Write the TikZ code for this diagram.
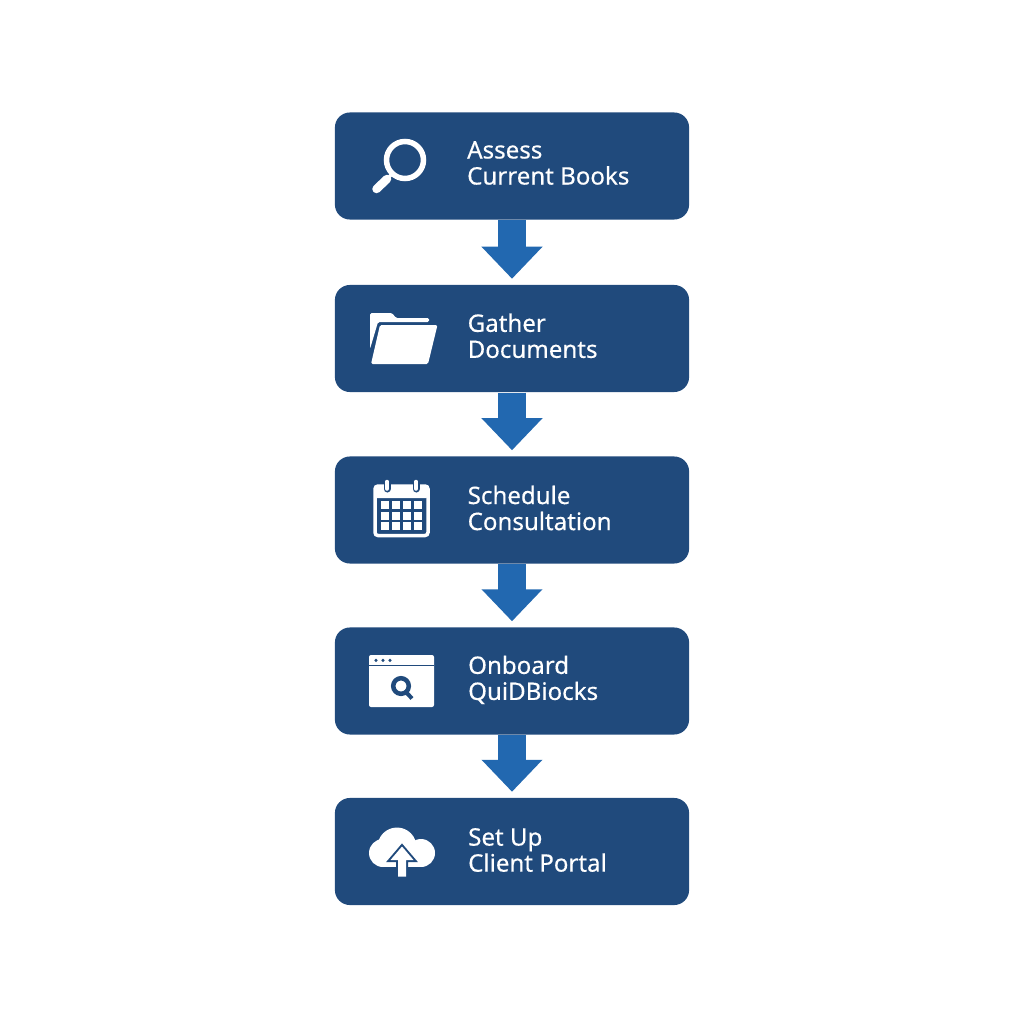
\documentclass[tikz,border=0pt]{standalone}
\usepackage{fontspec}
\newfontfamily\stepfont{Noto Sans}[FakeBold=0.35]
\usetikzlibrary{arrows.meta}
\definecolor{boxblue}{HTML}{204A7C}
\definecolor{arrowblue}{HTML}{2268B0}
\tikzset{
  stepbox/.style={rectangle, rounded corners=0.15cm, fill=boxblue, minimum width=3.54cm, minimum height=1.07cm},
  steptext/.style={anchor=west, align=left, text=white, inner sep=0pt, font=\stepfont\fontsize{6.85pt}{7.4pt}\selectfont},
  flowarrow/.style={arrowblue, line width=0.28cm, shorten >=0.055cm, -{Triangle[width=0.59cm,length=0.32cm]}},
  iconline/.style={white, line width=0.05cm},
  iconfill/.style={fill=white, draw=none},
  icondark/.style={fill=boxblue, draw=none}
}
\begin{document}
\begin{tikzpicture}[x=0.01cm, y=-0.01cm]
  \useasboundingbox (0,0) rectangle (1024,1024);

  % Boxes and labels
  % ----------------
  \foreach \n/\y/\lx/\ly/\txt in {
    1/166/466.5/163/{Assess\\Current Books},
    2/338.5/467/335.8/{Gather\\Documents},
    3/510/467/508/{Schedule\\Consultation},
    4/681/467.5/679.8/{Onboard\\QuiDBiocks},
    5/851.5/467.5/850/{Set Up\\Client Portal}}{
    \node[stepbox] (s\n) at (512,\y) {};
    \node[steptext] (l\n) at (\lx,\ly) {\txt};
  }

  % Arrows
  % ------
  \foreach \x [evaluate=\x as \sx using int(\x+1)] in {1, ..., 4}
  \draw[flowarrow] (s\x)--(s\sx);

  % Assess
  % ------
  \draw[iconline, line width=0.055cm] (405,160) circle (18.5);
  \draw[white, line width=0.035cm] (392,174)--(386,180);
  \draw[white, line width=0.085cm, line cap=round] (387,179)--(376.5,189);

  % Folder
  % ------
  \fill[iconfill, rounded corners=0.015cm] (370,313)--(392,313)--(396,318)--(429,318)--(429,322)--(378,322)--(370,349)--cycle;
  \fill[iconfill, rounded corners=0.015cm] (380,325)--(437.5,325)--(428,364)--(371,364)--cycle;

  % Calendar
  % --------
  \draw[iconline, line width=0.035cm, rounded corners=0.03cm] (375,486) rectangle (428,535.5);
  \fill[iconfill, rounded corners=0.02cm] (375,485)--(428,485)--(428,498)--(375,498)--cycle;
  \foreach \x in {387, 416}{
    \draw[boxblue, line width=0.07cm, line cap=round] (\x,482)--(\x,489);
    \draw[white, line width=0.035cm, line cap=round] (\x,481.5)--(\x,489);
  }
  \foreach \x in {385, 396, 407, 418}
  \foreach \y in {505, 516, 526}
  \fill[iconfill] (\x-4,\y-3.6) rectangle (\x+4,\y+3.6);

  % Browser
  % -------
  \fill[iconfill, rounded corners=0.02cm] (369,655) rectangle (434,707);
  \draw[boxblue, line width=0.015cm] (369,665.5)--(434,665.5);
  \foreach \x in {376, 383, 390}
  \fill[icondark] (\x,660.3) circle (1.7);
  \draw[boxblue, line width=0.045cm] (401,686) circle (7.8);
  \draw[boxblue, line width=0.04cm] (405,691)--(412,698.5);

  % Cloud
  % -----
  \fill[iconfill] (397,847) circle (19.5);
  \fill[iconfill] (383,853) circle (14);
  \fill[iconfill] (421,853) circle (14);
  \fill[iconfill] (383,850) rectangle (421,867);
  \draw[boxblue, line width=0.04cm, line join=miter] (402,846.5)--(413.5,860)--(406,860)--(406,876.5)--(398,876.5)--(398,860)--(390.5,860)--cycle;
  \fill[iconfill] (402,846.5)--(413.5,860)--(406,860)--(406,876.5)--(398,876.5)--(398,860)--(390.5,860)--cycle;
\end{tikzpicture}
\end{document}
